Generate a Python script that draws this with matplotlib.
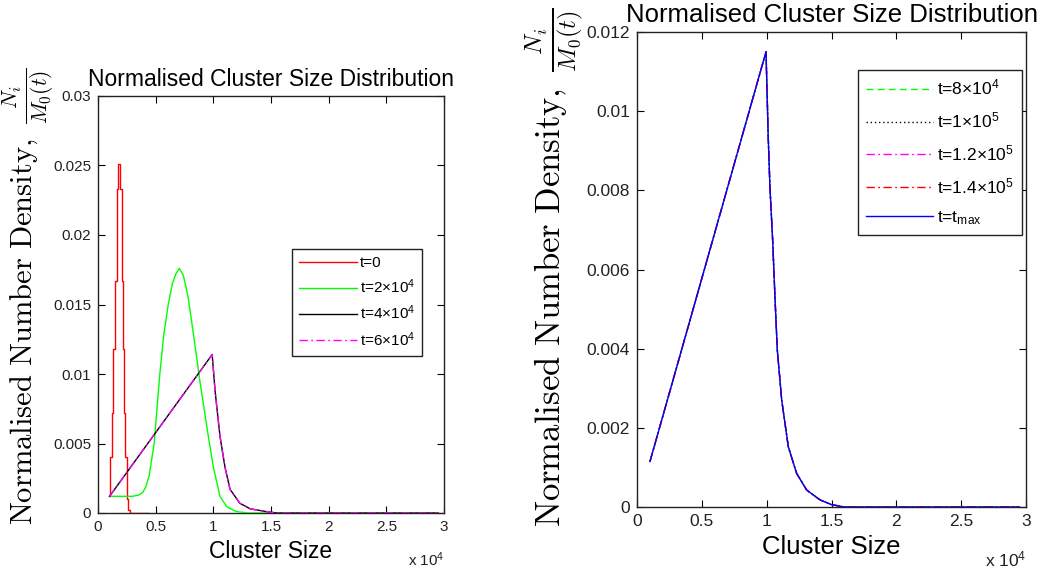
import matplotlib
matplotlib.use("Agg")
import matplotlib.pyplot as plt

plt.rcParams['font.family'] = ['Liberation Sans', 'DejaVu Sans']
plt.rcParams['mathtext.fontset'] = 'custom'
plt.rcParams['mathtext.rm'] = 'Liberation Sans'
plt.rcParams['mathtext.it'] = 'Liberation Sans:italic'
plt.rcParams['mathtext.bf'] = 'Liberation Sans:bold'

# ---------------- data (left panel) ----------------
red_x = [1000, 1120, 1260, 1400, 1550, 1690, 1840, 1980, 2100, 2210, 2320, 2420, 2560, 2700, 2850, 3000, 4300]
red_y = [0.0012, 0.0040, 0.0072, 0.0118, 0.0167, 0.0233, 0.0251, 0.0233, 0.0167, 0.0118, 0.0072, 0.0040,
         0.0010, 0.0002, 0.0, 0.0, 0.0]

green_x = [1000, 2000, 3000, 3570, 3900, 4150, 4440, 4870, 5360, 5700, 6090, 6450, 6750, 7050, 7400, 7800,
           8270, 8850, 9570, 10000, 10580, 11160, 12000, 13000, 15000]
green_y = [0.0012, 0.0012, 0.0012, 0.0013, 0.0015, 0.0019, 0.0027, 0.0050, 0.0100, 0.0128, 0.0150, 0.0165,
           0.0172, 0.0176, 0.0171, 0.0156, 0.0129, 0.0094, 0.0055, 0.0033, 0.0012, 0.00045, 0.0001, 0.0, 0.0]

bm_x = [1000, 9900, 10150, 10580, 11010, 11450, 12300, 13200, 14600, 15500, 29500]
bm_y = [0.0012, 0.0114, 0.0088, 0.0055, 0.0033, 0.0017, 0.0007, 0.0003, 0.0001, 0.0, 0.0]

# ---------------- data (right panel) ----------------
blue_x = [1000, 9950, 10120, 10250, 10460, 10640, 10820, 11160, 11670, 12310, 13080, 14110, 15000, 16000, 29500]
blue_y = [0.00115, 0.0115, 0.00935, 0.0081, 0.00675, 0.0053, 0.00397, 0.0027, 0.00152, 0.00085, 0.00043,
          0.00018, 0.00006, 0.0, 0.0]

left_labels = ['t=0', 't=2$\\times$10$^4$', 't=4$\\times$10$^4$', 't=6$\\times$10$^4$']
right_labels = ['t=8$\\times$10$^4$', 't=1$\\times$10$^5$', 't=1.2$\\times$10$^5$', 't=1.4$\\times$10$^5$',
                't=t$_{\\mathrm{max}}$']

x_ticks = [0, 5000, 10000, 15000, 20000, 25000, 30000]
x_ticklabels = ['0', '0.5', '1', '1.5', '2', '2.5', '3']
left_yticks = [0, 0.005, 0.01, 0.015, 0.02, 0.025, 0.03]
left_yticklabels = ['0', '0.005', '0.01', '0.015', '0.02', '0.025', '0.03']
right_yticks = [0, 0.002, 0.004, 0.006, 0.008, 0.01, 0.012]
right_yticklabels = ['0', '0.002', '0.004', '0.006', '0.008', '0.01', '0.012']

title = 'Normalised Cluster Size Distribution'
xlabel = 'Cluster Size'
ylabel = r'$\mathrm{Normalised\ Number\ Density,}\ \frac{N_i}{M_0(t)}$'

W, H = 1045, 572
fig = plt.figure(figsize=(W / 100, H / 100), dpi=100)
ax1 = fig.add_axes([98 / W, (H - 513) / H, 346 / W, 417 / H])
ax2 = fig.add_axes([637 / W, (H - 507) / H, 389 / W, 475 / H])

lw = 1.0
z = 3
ax1.plot(red_x, red_y, color='#ff0000', lw=lw, drawstyle='steps-mid', label=left_labels[0], zorder=z)
ax1.plot(green_x, green_y, color='#00ff00', lw=lw, label=left_labels[1], zorder=z)
ax1.plot(bm_x, bm_y, color='black', lw=lw, label=left_labels[2], zorder=z)
ax1.plot(bm_x, bm_y, color='#ff00ff', lw=lw, ls=(0, (6, 2.5, 1.2, 2.5)), label=left_labels[3], zorder=z)

ax2.plot(blue_x, blue_y, color='#00ff00', lw=lw, ls=(0, (5, 3)), label=right_labels[0], zorder=z)
ax2.plot(blue_x, blue_y, color='black', lw=lw, ls=(0, (1, 2)), label=right_labels[1], zorder=z)
ax2.plot(blue_x, blue_y, color='#ff00ff', lw=lw, ls=(0, (6, 2.5, 1.2, 2.5)), label=right_labels[2], zorder=z)
ax2.plot(blue_x, blue_y, color='#ff0000', lw=lw, ls=(0, (6, 2.5, 1.2, 2.5)), label=right_labels[3], zorder=z)
ax2.plot(blue_x, blue_y, color='#0000ff', lw=lw, label=right_labels[4], zorder=z)

panel_cfg = [
    # ax, yticks, yticklabels, ymax, tick size, title size, offset size
    (ax1, left_yticks, left_yticklabels, 0.03, 11, 16.5, 11),
    (ax2, right_yticks, right_yticklabels, 0.012, 12.5, 18.5, 12.5),
]
for ax, yt, ytl, ylim, tsz, hsz, osz in panel_cfg:
    ax.set_xlim(0, 30000)
    ax.set_ylim(0, ylim)
    ax.set_xticks(x_ticks)
    ax.set_xticklabels(x_ticklabels)
    ax.set_yticks(yt)
    ax.set_yticklabels(ytl)
    ax.tick_params(direction='in', top=True, right=True, length=5, width=0.8,
                   labelsize=tsz, labelcolor='#222222', pad=5)
    for sp in ax.spines.values():
        sp.set_linewidth(1.0)
        sp.set_color('#222222')
    ax.set_title(title, fontsize=hsz, pad=7)
    ax.set_xlabel(xlabel, fontsize=hsz, labelpad=4)
    ax.text(1.0, -0.09, 'x 10$^4$', transform=ax.transAxes, ha='right', va='top', fontsize=osz,
            color='#222222')

leg1 = ax1.legend(loc='upper right', bbox_to_anchor=(0.936, 0.633), fontsize=11, handlelength=3.8,
                  fancybox=False, framealpha=1, edgecolor='#222222', borderpad=0.45, labelspacing=0.5,
                  handletextpad=0.2, borderaxespad=0)
leg1.get_frame().set_linewidth(1.0)
leg1.set_zorder(5)
leg2 = ax2.legend(loc='upper right', bbox_to_anchor=(0.989, 0.92), fontsize=12.5, handlelength=3.9,
                  fancybox=False, framealpha=1, edgecolor='#222222', borderpad=0.45, labelspacing=0.75,
                  handletextpad=0.2, borderaxespad=0)
leg2.get_frame().set_linewidth(1.0)
leg2.set_zorder(5)

fig.text(28 / W, (H - 296) / H, ylabel, rotation=90, ha='center', va='center', fontsize=22,
         math_fontfamily='cm')
fig.text(556 / W, (H - 267) / H, ylabel, rotation=90, ha='center', va='center', fontsize=25,
         math_fontfamily='cm')

fig.savefig('out.png', dpi=100)
